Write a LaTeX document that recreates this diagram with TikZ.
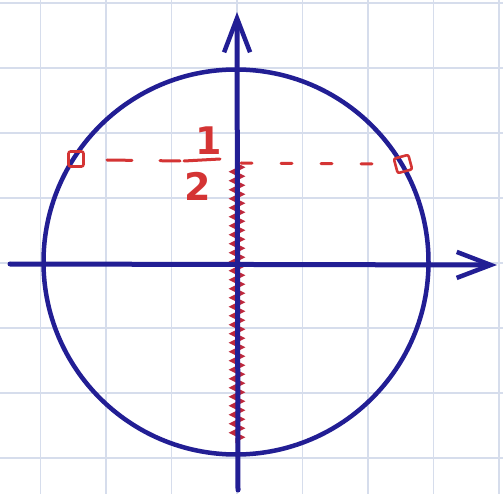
\documentclass[tikz,border=0pt]{standalone}
\usepackage{fontspec}
\newfontfamily\handfont{DejaVu Sans}
\usetikzlibrary{arrows.meta,decorations.pathmorphing}
\definecolor{penblue}{RGB}{34,30,148}
\definecolor{penred}{RGB}{212,52,52}
\definecolor{wigred}{RGB}{190,40,60}
\definecolor{gridc}{RGB}{214,221,236}
\tikzset{
  gridline/.style={draw=gridc,line width=1.5pt},
  axis/.style={draw=penblue,line width=5pt,line cap=round,
    -{Straight Barb[length=34pt,width=26pt,line width=4.5pt]}},
  circ/.style={draw=penblue,line width=4.5pt},
  marker/.style={draw=penred,line width=2.6pt,rounded corners=2pt,minimum size=15pt,inner sep=0pt},
  reddash/.style={draw=penred,line width=3pt,line cap=round},
  wiggle/.style={draw=wigred,line width=3.5pt,decorate,decoration={zigzag,segment length=9pt,amplitude=4.5pt}},
  digit/.style={text=penred,font=\handfont\bfseries\fontsize{38}{46}\selectfont,inner sep=0pt}
}
\begin{document}
\begin{tikzpicture}[x=1pt,y=-1pt]
\useasboundingbox (0,0) rectangle (503,494);
\fill[white] (0,0) rectangle (503,494);
% grid
\foreach \gx in {40.5,106,171.5,237,302.5,368,433.5,499} \draw[gridline] (\gx,0) -- (\gx,494);
\foreach \gy in {3,68,133,198,263,328,393,458} \draw[gridline] (0,\gy) -- (503,\gy);
% coordinates
\coordinate (xs) at (10,264);
\coordinate (xe) at (497,265);
\coordinate (ys) at (238,490);
\coordinate (ye) at (237,12);
\coordinate (wt) at (237,165);
\coordinate (wb) at (237,443);
% red hatched segment
\draw[wiggle] (wt) -- (wb);
% circle
\node[circ,circle,minimum size=385pt,inner sep=0pt] (c) at (236,262) {};
% axes
\draw[axis] (xs) -- (xe);
\draw[axis] (ys) -- (ye);
% markers
\node[marker] (L) at (76,159) {};
\node[marker,rotate=15] (R) at (403,164) {};
% dashed level line y = 1/2
\coordinate (ls) at (107,160);
\coordinate (le) at (180,161);
\coordinate (rs) at (241,163);
\coordinate (re) at (394,164);
\draw[reddash,dash pattern=on 25pt off 28pt] (ls) -- (le);
\draw[reddash,dash pattern=on 11pt off 29pt] (rs) -- (re);
% fraction
\node[digit] (num) at (209,141) {1};
\node[digit] (den) at (198,186) {2};
\coordinate (bl) at (184,161);
\coordinate (br) at (220,159);
\draw[reddash] (bl) -- (br);
\end{tikzpicture}
\end{document}
